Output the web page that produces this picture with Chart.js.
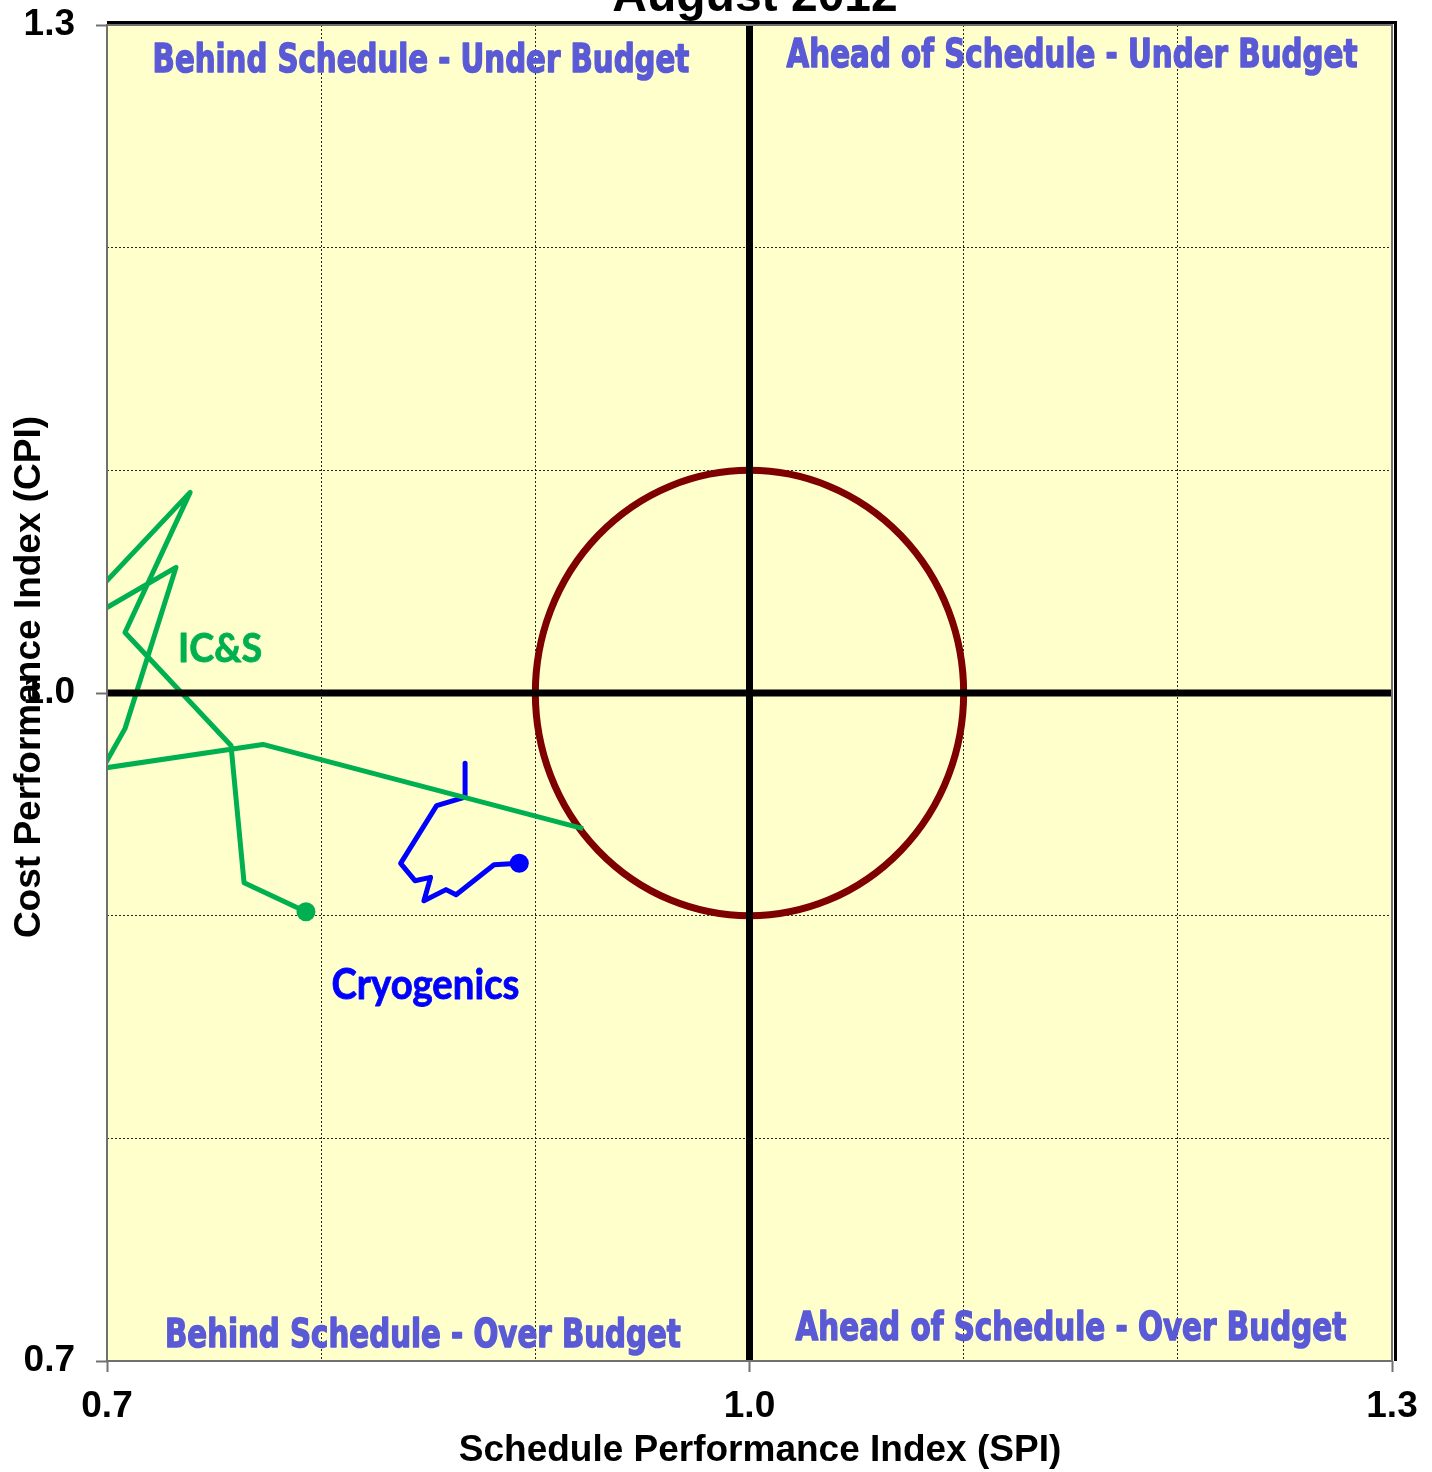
<!DOCTYPE html>
<html>
<head>
<meta charset="utf-8">
<script src="https://cdn.jsdelivr.net/npm/chart.js@4.4.1/dist/chart.umd.min.js"></script>
<style>
  html, body { margin: 0; padding: 0; background: #ffffff; }
  canvas { display: block; }
</style>
</head>
<body>
<canvas id="chart" width="1432" height="1472"></canvas>
<script>
// IC&S monthly SPI / CPI path (last point = current month)
const icsSpi = [0.9223, 0.7728, 0.6980, 0.7084, 0.7322, 0.6739, 0.7388, 0.7084, 0.7579, 0.7640, 0.7929]
const icsCpi = [0.9391, 0.9769, 0.9662, 0.9840, 1.0564, 1.0238, 1.0901, 1.0272, 0.9764, 0.9148, 0.9018]

// Cryogenics monthly SPI / CPI path
const cryoSpi = [0.8672, 0.8672, 0.8539, 0.8371, 0.8438, 0.8511, 0.8480, 0.8583, 0.8630, 0.8807, 0.8925]
const cryoCpi = [0.9685, 0.9532, 0.9494, 0.9235, 0.9157, 0.9172, 0.9067, 0.9117, 0.9094, 0.9229, 0.9235]

// axes
const xTickValues = [0.7, 0.8, 0.9, 1.0, 1.1, 1.2, 1.3]
const xTickLabels = ['0.7', '', '', '1.0', '', '', '1.3']
const yTickValues = [0.7, 0.8, 0.9, 1.0, 1.1, 1.2, 1.3]
const yTickLabels = ['0.7', '', '', '1.0', '', '', '1.3']

// target zone: circle of radius 0.1 round (1.0, 1.0)
const targetCenter = [1.0, 1.0]
const targetRadius = 0.1

const quadrantTexts = [
  { text: 'Behind Schedule - Under Budget', x: 0.8466, y: 1.2834, w: 537 },
  { text: 'Ahead of Schedule - Under Budget', x: 1.1506, y: 1.2856, w: 571 },
  { text: 'Behind Schedule - Over Budget', x: 0.8475, y: 0.7108, w: 516 },
  { text: 'Ahead of Schedule - Over Budget', x: 1.1501, y: 0.7139, w: 551 },
]
const seriesTexts = [
  { text: 'IC&S', x: 0.7528, y: 1.0200, w: 84, color: '#00b050' },
  { text: 'Cryogenics', x: 0.8487, y: 0.8685, w: 188, color: '#0000ff' },
]

const AXIS_FONT = '"Liberation Sans", Arial, sans-serif'
const QUAD_FONT = '"DejaVu Sans Condensed", Lato, sans-serif'
const LABEL_FONT = 'Lato, "Open Sans", sans-serif'

function toPoints(xs, ys) {
  return xs.map((x, i) => ({ x, y: ys[i] }))
}

// text squeezed to a given width, optionally stretched upward
function fitText(ctx, text, cx, cy, width, family, color, stroke, stretch = 1) {
  ctx.save()
  ctx.font = `bold 100px ${family}`
  const size = 100 * width / ctx.measureText(text).width
  ctx.font = `bold ${size}px ${family}`
  ctx.translate(cx, cy)
  ctx.scale(1, stretch)
  ctx.fillStyle = color
  ctx.textAlign = 'center'
  ctx.textBaseline = 'middle'
  ctx.fillText(text, 0, 0)
  if (stroke) {
    ctx.strokeStyle = color
    ctx.lineWidth = stroke
    ctx.lineJoin = 'round'
    ctx.strokeText(text, 0, 0)
  }
  ctx.restore()
}

const lastPointRadius = (c) => (c.dataIndex === c.dataset.data.length - 1 ? 9.5 : 0)

const quadrantPlugin = {
  id: 'quadrant',
  beforeDraw(chart) {
    const { ctx, chartArea: a } = chart
    ctx.save()
    ctx.fillStyle = '#ffffcc'
    ctx.fillRect(a.left, a.top, a.right - a.left, a.bottom - a.top)
    ctx.restore()
  },
  beforeDatasetsDraw(chart) {
    const { ctx } = chart
    const xs = chart.scales.x
    const ys = chart.scales.y
    const cx = xs.getPixelForValue(targetCenter[0])
    const cy = ys.getPixelForValue(targetCenter[1])
    const rx = xs.getPixelForValue(targetCenter[0] + targetRadius) - cx
    const ry = cy - ys.getPixelForValue(targetCenter[1] + targetRadius)
    ctx.save()
    ctx.strokeStyle = '#7f0000'
    ctx.lineWidth = 7
    ctx.beginPath()
    ctx.ellipse(cx, cy, rx, ry, 0, 0, Math.PI * 2)
    ctx.stroke()
    ctx.restore()
  },
  afterDatasetsDraw(chart) {
    const { ctx, chartArea: a } = chart
    const xs = chart.scales.x
    const ys = chart.scales.y
    ctx.save()

    // quadrant cross at SPI = 1, CPI = 1
    ctx.strokeStyle = '#000000'
    ctx.lineWidth = 7
    ctx.beginPath()
    const px = xs.getPixelForValue(1.0)
    const py = ys.getPixelForValue(1.0)
    ctx.moveTo(px, a.top)
    ctx.lineTo(px, a.bottom)
    ctx.moveTo(a.left, py)
    ctx.lineTo(a.right, py)
    ctx.stroke()

    // plot frame with shadow on top / right
    ctx.strokeStyle = '#000000'
    ctx.lineWidth = 3
    ctx.beginPath()
    ctx.moveTo(a.left, a.top - 2.5)
    ctx.lineTo(a.right + 3.5, a.top - 2.5)
    ctx.lineTo(a.right + 3.5, a.bottom)
    ctx.stroke()
    ctx.strokeStyle = '#707070'
    ctx.lineWidth = 2
    ctx.strokeRect(a.left, a.top, a.right - a.left, a.bottom - a.top)

    quadrantTexts.forEach((q) => {
      fitText(ctx, q.text, xs.getPixelForValue(q.x), ys.getPixelForValue(q.y), q.w, QUAD_FONT, '#5a5ad6', 1.2, 1.22)
    })
    seriesTexts.forEach((s) => {
      fitText(ctx, s.text, xs.getPixelForValue(s.x), ys.getPixelForValue(s.y), s.w, LABEL_FONT, s.color, 0.8, 1.08)
    })
    ctx.restore()
  },
  afterDraw(chart) {
    const { ctx } = chart
    ctx.save()
    ctx.fillStyle = '#000000'
    ctx.textAlign = 'center'
    ctx.textBaseline = 'alphabetic'
    ctx.font = `bold 48px ${AXIS_FONT}`
    ctx.fillText('August 2012', 755, 11)

    ctx.font = `bold 37px ${AXIS_FONT}`
    ctx.fillText('Schedule Performance Index (SPI)', 760, 1461)

    ctx.translate(40, 677)
    ctx.rotate(-Math.PI / 2)
    ctx.fillText('Cost Performance Index (CPI)', 0, 0)
    ctx.restore()
  },
}

const gridOpts = (labels) => ({
  color: 'rgba(0, 0, 0, 0.85)',
  lineWidth: 1,
  drawTicks: true,
  tickLength: 11,
  tickWidth: 2,
  tickColor: (c) => (labels[c.index] ? '#707070' : 'rgba(0,0,0,0)'),
})

new Chart(document.getElementById('chart'), {
  type: 'scatter',
  data: {
    datasets: [
      {
        label: 'IC&S',
        data: toPoints(icsSpi, icsCpi),
        showLine: true,
        borderColor: '#00b050',
        backgroundColor: '#00b050',
        borderWidth: 5,
        borderJoinStyle: 'round',
        pointRadius: lastPointRadius,
        pointHoverRadius: lastPointRadius,
        pointBorderWidth: 0,
        clip: 0,
      },
      {
        label: 'Cryogenics',
        data: toPoints(cryoSpi, cryoCpi),
        showLine: true,
        borderColor: '#0000ff',
        backgroundColor: '#0000ff',
        borderWidth: 5,
        borderJoinStyle: 'round',
        pointRadius: lastPointRadius,
        pointHoverRadius: lastPointRadius,
        pointBorderWidth: 0,
        clip: 0,
      },
    ],
  },
  options: {
    responsive: false,
    animation: false,
    devicePixelRatio: 1,
    layout: { padding: { left: 0, top: 25, right: 40, bottom: 0 } },
    plugins: {
      legend: { display: false },
      tooltip: { enabled: false },
    },
    scales: {
      x: {
        type: 'linear',
        min: 0.7,
        max: 1.3,
        afterBuildTicks: (s) => { s.ticks = xTickValues.map((value) => ({ value })) },
        afterFit: (s) => {
          s.height = 111
          s.paddingLeft = 0
          s.paddingRight = 0
        },
        ticks: {
          autoSkip: false,
          maxRotation: 0,
          padding: 13,
          color: '#000000',
          font: { family: AXIS_FONT, size: 37, weight: 'bold' },
          callback: (value, index) => xTickLabels[index],
        },
        grid: gridOpts(xTickLabels),
        border: { display: false, dash: [2, 2] },
      },
      y: {
        type: 'linear',
        min: 0.7,
        max: 1.3,
        afterBuildTicks: (s) => { s.ticks = yTickValues.map((value) => ({ value })) },
        afterFit: (s) => {
          s.width = 107
          s.paddingTop = 0
          s.paddingBottom = 0
        },
        ticks: {
          autoSkip: false,
          padding: 21,
          color: '#000000',
          font: { family: AXIS_FONT, size: 37, weight: 'bold' },
          callback: (value, index) => yTickLabels[index],
        },
        grid: gridOpts(yTickLabels),
        border: { display: false, dash: [2, 2] },
      },
    },
  },
  plugins: [quadrantPlugin],
})
</script>
</body>
</html>
